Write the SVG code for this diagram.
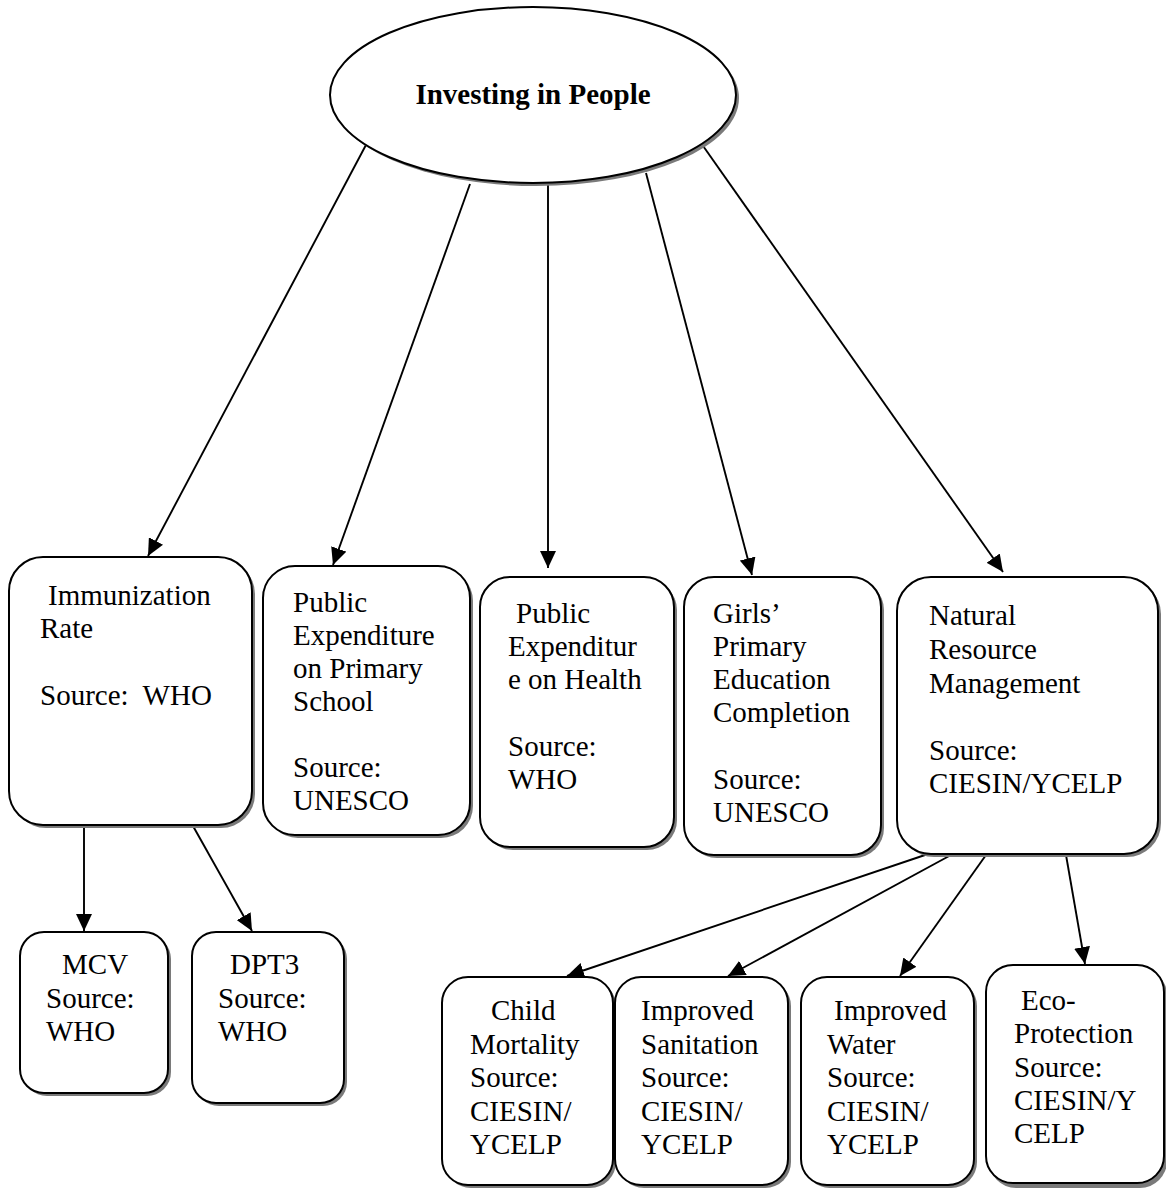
<svg xmlns="http://www.w3.org/2000/svg" width="1166" height="1188" viewBox="0 0 1166 1188">
<style>
.bg{fill:#fff}
.box{fill:#fff;stroke:#000;stroke-width:2}
.sh{fill:#7a7a7a;stroke:none}
.t{font-family:"Liberation Serif","Times New Roman",serif;font-size:29px;fill:#000}
.b{font-weight:bold}
.c{stroke:#000;stroke-width:1.9;fill:none;marker-end:url(#ah)}
</style>
<defs>
<marker id="ah" markerUnits="userSpaceOnUse" markerWidth="18" markerHeight="16" viewBox="0 0 18 16" refX="17" refY="8" orient="auto">
<path d="M0,0 L17,8 L0,16 Z" fill="#000"/>
</marker>
</defs>
<rect class="bg" x="0" y="0" width="1166" height="1188"/>
<g id="connectors">
<line class="c" x1="367" y1="143" x2="148" y2="556"/>
<line class="c" x1="470" y1="184" x2="333" y2="565"/>
<line class="c" x1="548" y1="184" x2="548" y2="568"/>
<line class="c" x1="646" y1="173" x2="752" y2="575"/>
<line class="c" x1="701" y1="143" x2="1003" y2="572"/>
<line class="c" x1="84" y1="826" x2="84" y2="931"/>
<line class="c" x1="193" y1="826" x2="252" y2="931"/>
<line class="c" x1="928" y1="854" x2="567" y2="976"/>
<line class="c" x1="951" y1="855" x2="728" y2="976"/>
<line class="c" x1="986" y1="855" x2="900" y2="976"/>
<line class="c" x1="1066" y1="855" x2="1085" y2="964"/>
</g>
<g id="root">
<ellipse class="sh" cx="536" cy="98" rx="203" ry="88"/>
<ellipse class="box" cx="533" cy="95" rx="203" ry="88"/>
<text class="t b" x="533" y="104" text-anchor="middle">Investing in People</text>
</g>
<g id="immunization">
<rect class="sh" x="12" y="560" width="243" height="268" rx="34"/>
<rect class="box" x="9" y="557" width="243" height="268" rx="34"/>
<text class="t" x="48" y="605">Immunization</text>
<text class="t" x="40" y="638">Rate</text>
<text class="t" x="40" y="705" xml:space="preserve">Source:  WHO</text>
</g>
<g id="pub-primary">
<rect class="sh" x="266" y="569" width="207" height="269" rx="32"/>
<rect class="box" x="263" y="566" width="207" height="269" rx="32"/>
<text class="t" x="293" y="612">Public</text>
<text class="t" x="293" y="645">Expenditure</text>
<text class="t" x="293" y="678">on Primary</text>
<text class="t" x="293" y="711">School</text>
<text class="t" x="293" y="777">Source:</text>
<text class="t" x="293" y="810">UNESCO</text>
</g>
<g id="pub-health">
<rect class="sh" x="483" y="580" width="194" height="270" rx="30"/>
<rect class="box" x="480" y="577" width="194" height="270" rx="30"/>
<text class="t" x="516" y="623">Public</text>
<text class="t" x="508" y="656">Expenditur</text>
<text class="t" x="508" y="689">e on Health</text>
<text class="t" x="508" y="756">Source:</text>
<text class="t" x="508" y="789">WHO</text>
</g>
<g id="girls">
<rect class="sh" x="687" y="580" width="197" height="278" rx="30"/>
<rect class="box" x="684" y="577" width="197" height="278" rx="30"/>
<text class="t" x="713" y="623">Girls’</text>
<text class="t" x="713" y="656">Primary</text>
<text class="t" x="713" y="689">Education</text>
<text class="t" x="713" y="722">Completion</text>
<text class="t" x="713" y="789">Source:</text>
<text class="t" x="713" y="822">UNESCO</text>
</g>
<g id="nrm">
<rect class="sh" x="900" y="580" width="261" height="277" rx="34"/>
<rect class="box" x="897" y="577" width="261" height="277" rx="34"/>
<text class="t" x="929" y="625">Natural</text>
<text class="t" x="929" y="659">Resource</text>
<text class="t" x="929" y="693">Management</text>
<text class="t" x="929" y="760">Source:</text>
<text class="t" x="929" y="793">CIESIN/YCELP</text>
</g>
<g id="mcv">
<rect class="sh" x="23" y="935" width="148" height="161" rx="24"/>
<rect class="box" x="20" y="932" width="148" height="161" rx="24"/>
<text class="t" x="62" y="974">MCV</text>
<text class="t" x="46" y="1008">Source:</text>
<text class="t" x="46" y="1041">WHO</text>
</g>
<g id="dpt3">
<rect class="sh" x="195" y="935" width="152" height="171" rx="24"/>
<rect class="box" x="192" y="932" width="152" height="171" rx="24"/>
<text class="t" x="230" y="974">DPT3</text>
<text class="t" x="218" y="1008">Source:</text>
<text class="t" x="218" y="1041">WHO</text>
</g>
<g id="child">
<rect class="sh" x="445" y="980" width="171" height="208" rx="26"/>
<rect class="box" x="442" y="977" width="171" height="208" rx="26"/>
<text class="t" x="491" y="1020">Child</text>
<text class="t" x="470" y="1054">Mortality</text>
<text class="t" x="470" y="1087">Source:</text>
<text class="t" x="470" y="1121">CIESIN/</text>
<text class="t" x="470" y="1154">YCELP</text>
</g>
<g id="sanitation">
<rect class="sh" x="618" y="980" width="173" height="208" rx="26"/>
<rect class="box" x="615" y="977" width="173" height="208" rx="26"/>
<text class="t" x="641" y="1020">Improved</text>
<text class="t" x="641" y="1054">Sanitation</text>
<text class="t" x="641" y="1087">Source:</text>
<text class="t" x="641" y="1121">CIESIN/</text>
<text class="t" x="641" y="1154">YCELP</text>
</g>
<g id="water">
<rect class="sh" x="804" y="980" width="173" height="208" rx="26"/>
<rect class="box" x="801" y="977" width="173" height="208" rx="26"/>
<text class="t" x="834" y="1020">Improved</text>
<text class="t" x="827" y="1054">Water</text>
<text class="t" x="827" y="1087">Source:</text>
<text class="t" x="827" y="1121">CIESIN/</text>
<text class="t" x="827" y="1154">YCELP</text>
</g>
<g id="eco">
<rect class="sh" x="989" y="968" width="178" height="220" rx="27"/>
<rect class="box" x="986" y="965" width="178" height="218" rx="27"/>
<text class="t" x="1021" y="1010">Eco-</text>
<text class="t" x="1014" y="1043">Protection</text>
<text class="t" x="1014" y="1077">Source:</text>
<text class="t" x="1014" y="1110">CIESIN/Y</text>
<text class="t" x="1014" y="1143">CELP</text>
</g>
</svg>
